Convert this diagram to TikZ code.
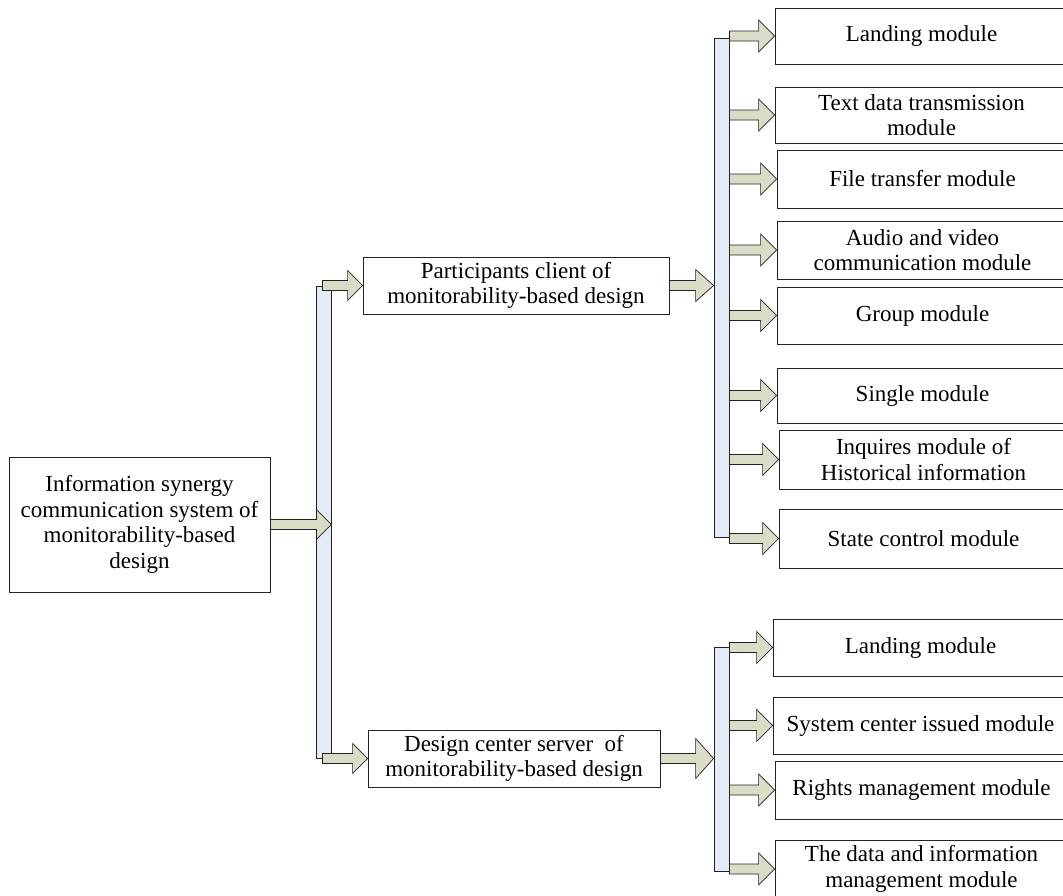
\documentclass[tikz,border=0pt]{standalone}
\usepackage{fontspec}
\setmainfont{Liberation Serif}
\usetikzlibrary{calc}

\definecolor{arrowfill}{RGB}{217,221,199}
\definecolor{barfill}{RGB}{228,235,246}
\definecolor{edge}{RGB}{35,35,35}

% block arrow: #1 head length, #2 head half-width, #3 tail point, #4 tip point
\newcommand\fatarrow[4]{%
  \path[fatarrow] let \p1=#3, \p2=#4 in
    (\x1,\y2+5pt) -- (\x2-#1pt,\y2+5pt) -- (\x2-#1pt,\y2+#2pt) -- (\x2,\y2)
    -- (\x2-#1pt,\y2-#2pt) -- (\x2-#1pt,\y2-5pt) -- (\x1,\y2-5pt) -- cycle;}

\begin{document}
\begin{tikzpicture}[x=1pt,y=-1pt,
  box/.style={draw=edge, line width=0.8pt, fill=white, inner sep=0pt, align=center,
    font=\fontsize{23}{25.5}\selectfont},
  bar/.style={draw=edge, line width=0.8pt, fill=barfill, inner sep=0pt, minimum width=15pt},
  fatarrow/.style={draw=edge, line width=0.7pt, fill=arrowfill, line join=miter}]
\clip (0,0) rectangle (1063,895);
\fill[white] (0,0) rectangle (1063,895);

% distribution bars
\node[bar, minimum height=472pt] (barM) at (323.5,522) {};
\node[bar, minimum height=499pt] (barU) at (721.5,287.5) {};
\node[bar, minimum height=224pt] (barL) at (721.5,759) {};

% main blocks
\node[box, minimum width=261pt, minimum height=135pt] (root) at (139.5,524.5)
  {Information synergy\\communication system of\\monitorability-based\\design};
\node[box, minimum width=306pt, minimum height=57pt] (part) at (516,285.5)
  {Participants client of\\monitorability-based design};
\node[box, minimum width=292pt, minimum height=57pt] (design) at (514,758.5)
  {Design center server\ \ of\\monitorability-based design};

% client modules
\node[box, minimum width=293pt, minimum height=56pt] (u1) at (921.5,36) {Landing module};
\node[box, minimum width=293pt, minimum height=56pt] (u2) at (921.5,115) {Text data transmission\\module};
\node[box, minimum width=291pt, minimum height=58pt] (u3) at (922.5,179) {File transfer module};
\node[box, minimum width=291pt, minimum height=58pt] (u4) at (922.5,250) {Audio and video\\communication module};
\node[box, minimum width=291pt, minimum height=57pt] (u5) at (922.5,315.5) {Group module};
\node[box, minimum width=291pt, minimum height=55pt] (u6) at (922.5,395.5) {Single module};
\node[box, minimum width=289pt, minimum height=59pt] (u7) at (923.5,459.5) {Inquires module of\\Historical information};
\node[box, minimum width=289pt, minimum height=59pt] (u8) at (923.5,538.5) {State control module};

% server modules
\node[box, minimum width=295pt, minimum height=57pt] (l1) at (920.5,647.5) {Landing module};
\node[box, minimum width=295pt, minimum height=57pt] (l2) at (920.5,725.5) {System center issued module};
\node[box, minimum width=293pt, minimum height=58pt] (l3) at (921.5,790) {Rights management module};
\node[box, minimum width=293pt, minimum height=58pt] (l4) at (921.5,869) {The data and information\\management module};

% arrows into and out of the main bar
\fatarrow{15}{15}{(root.east)}{(barM.east |- root.east)}
\fatarrow{15}{15}{($(barM.east |- part.west)+(-9pt,0)$)}{(part.west)}
\fatarrow{15}{15}{($(barM.east |- design.west)+(-9pt,0)$)}{(design.west)}

% arrows into the module bars
\fatarrow{18}{16}{(part.east)}{(barU.west |- part.east)}
\fatarrow{18}{20}{(design.east)}{(barL.west |- design.east)}

% arrows to the client modules
\foreach \m in {u1,u2,u3,u4,u5,u6,u7,u8}
  \fatarrow{16}{16}{(barU.east |- \m.west)}{(\m.west)};

% arrows to the server modules
\foreach \m in {l1,l2,l3,l4}
  \fatarrow{16}{16}{(barL.east |- \m.west)}{(\m.west)};
\end{tikzpicture}
\end{document}
